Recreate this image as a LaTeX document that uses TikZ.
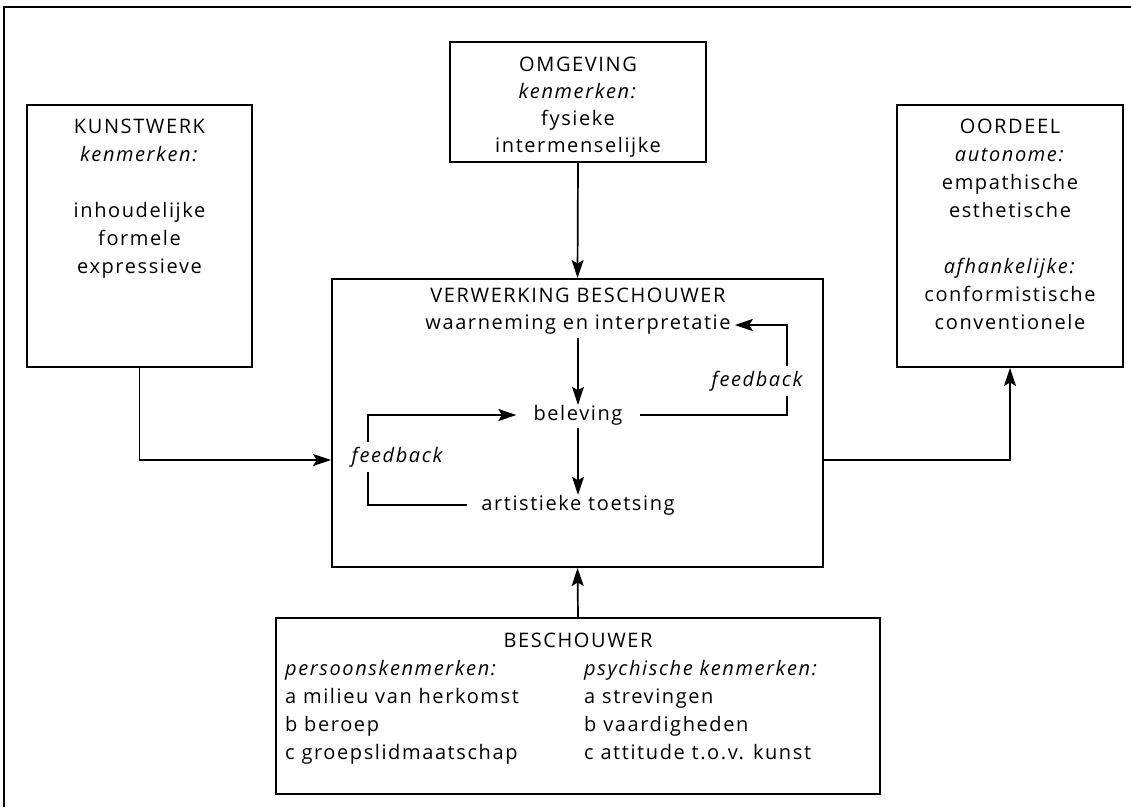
\documentclass[tikz,border=0pt]{standalone}
\usepackage{fontspec}
\setmainfont{Open Sans}[LetterSpace=8]
\usetikzlibrary{arrows.meta,fit}
\newcommand\diagfont{\fontsize{20}{28}\selectfont}
\newcommand\tightfont{\fontsize{20}{27}\selectfont}
\begin{document}
\begin{tikzpicture}[x=1pt,y=-1pt,
  box/.style={draw, line width=1.9pt, inner sep=0pt},
  txt/.style={inner sep=0pt, align=center, font=\diagfont, anchor=north},
  col/.style={inner sep=0pt, align=left, font=\diagfont, anchor=north west},
  lbl/.style={inner sep=0pt, font=\diagfont, anchor=center},
  fb/.style={lbl, fill=white, inner ysep=5pt, font=\diagfont\itshape},
  conn/.style={line width=1.7pt},
  arr/.style={conn, -{Stealth[length=18pt,width=12pt,inset=3.5pt]}},
]
\useasboundingbox (0,0) rectangle (1131,807);
% outer frame (top and left edges)
\draw[conn] (4,807) -- (4,7) -- (1131,7);

% boxes
\node[box, fit={(27,105)(252,367)}] (kunst) {};
\node[box, fit={(450,42)(706,162)}] (omg) {};
\node[box, fit={(897,105)(1123,367)}] (oord) {};
\node[box, fit={(332,279)(823,567)}] (verw) {};
\node[box, fit={(276,618)(880,794)}] (besch) {};

% box texts
\node[txt] (kunsttxt) at (139.5,119) {KUNSTWERK\\\textit{kenmerken:}\\[28pt]inhoudelijke\\formele\\expressieve};
\node[txt, font=\tightfont] (omgtxt) at (578,57) {OMGEVING\\\textit{kenmerken:}\\fysieke\\intermenselijke};
\node[txt] (oordtxt) at (1010,119) {OORDEEL\\\textit{autonome:}\\empathische\\esthetische\\[28pt]\textit{afhankelijke:}\\conformistische\\conventionele};
\node[txt] (verwtxt) at (578,288) {VERWERKING BESCHOUWER};
\node[txt] (beschtxt) at (578,633) {BESCHOUWER};
\node[col] (pers) at (285,660) {\textit{persoonskenmerken:}\\a milieu van herkomst\\b beroep\\c groepslidmaatschap};
\node[col] (psych) at (584,660) {\textit{psychische kenmerken:}\\a strevingen\\b vaardigheden\\c attitude t.o.v. kunst};

% processing steps
\node[lbl] (waar) at (578,325) {waarneming en interpretatie};
\node[lbl] (bel) at (578,415) {beleving};
\node[lbl] (art) at (578,505) {artistieke toetsing};
\coordinate (rc) at (787,325);
\coordinate (lc) at (368,415);

% connectors between boxes
\draw[arr] (kunst.south) |- (verw.west |- 0,460);
\draw[arr] (verw.east |- 0,460) -| (oord.south);
\draw[arr] (omg.south) -- (verw.north);
\draw[arr] (besch.north) -- (verw.south);

% steps and feedback loops
\draw[arr, shorten <=3pt] (waar) -- (bel);
\draw[arr, shorten <=3pt] (bel) -- (art);
\draw[arr] ([xshift=17pt]bel.east) -| (rc) -- ([xshift=4pt]waar.east);
\draw[arr] ([xshift=-14pt]art.west) -| (lc) -- ([xshift=-17pt]bel.west);
\node[fb] (fbr) at (757,381) {feedback};
\node[fb] (fbl) at (397,457) {feedback};
\end{tikzpicture}
\end{document}
